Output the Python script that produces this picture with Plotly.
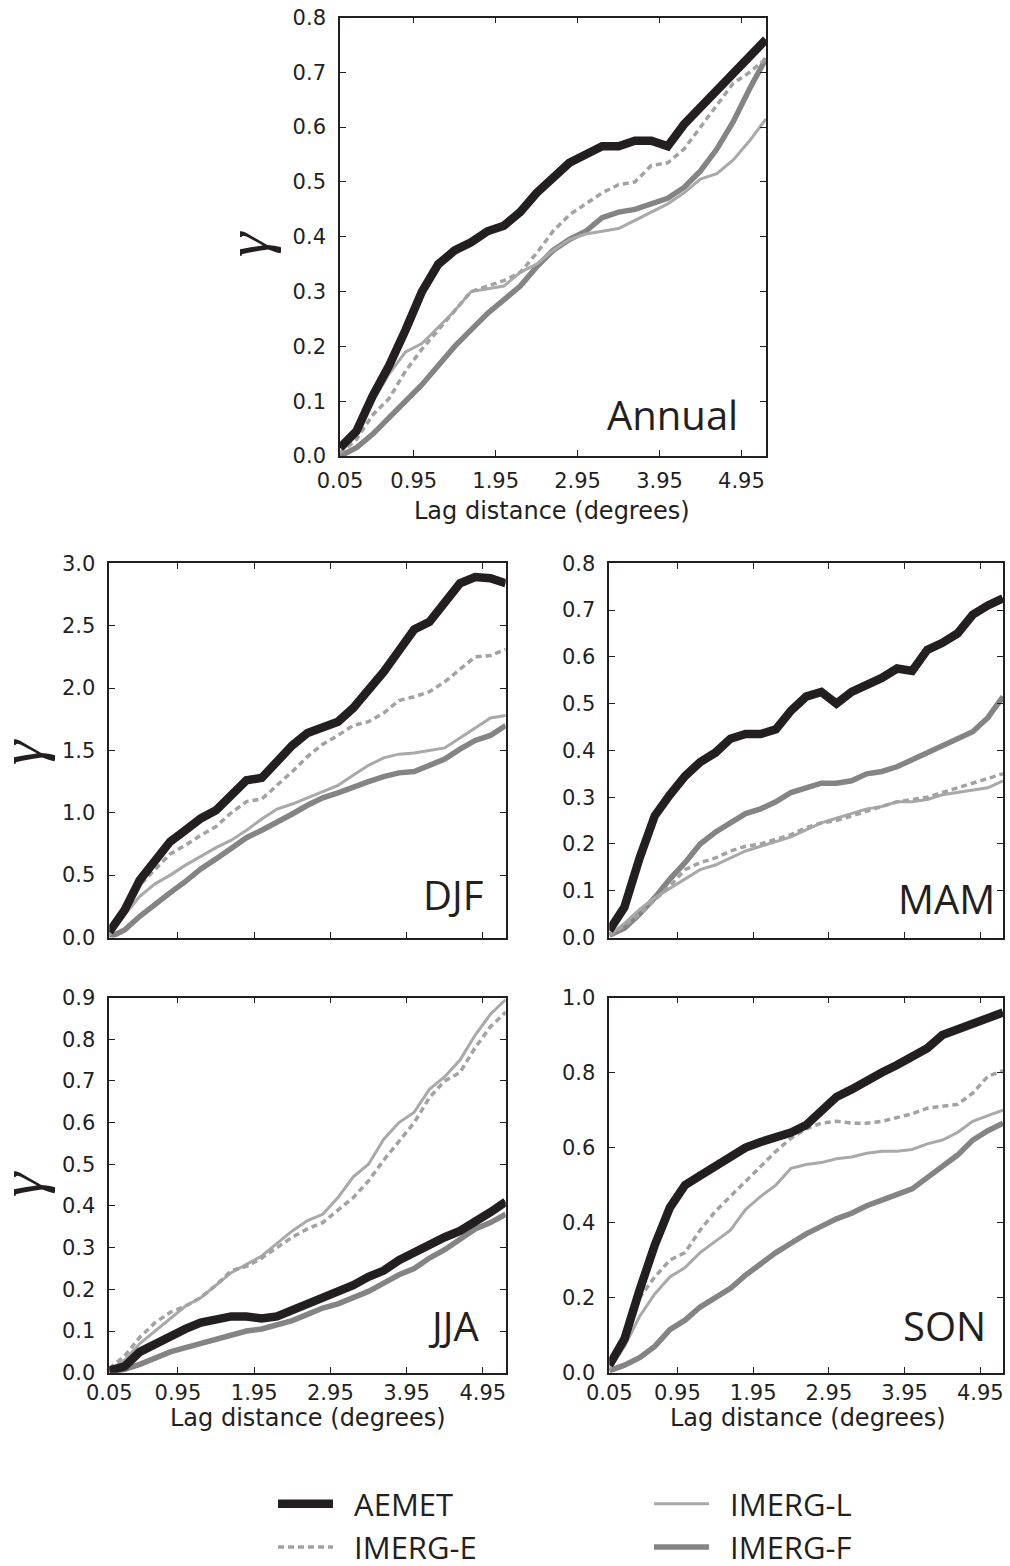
import plotly.graph_objects as go

# ---------------- data ----------------
lag = [0.05, 0.25, 0.45, 0.65, 0.85, 1.05, 1.25, 1.45, 1.65, 1.85, 2.05, 2.25, 2.45, 2.65,
       2.85, 3.05, 3.25, 3.45, 3.65, 3.85, 4.05, 4.25, 4.45, 4.65, 4.85, 5.05, 5.25]

tick_vals = [0.05, 0.95, 1.95, 2.95, 3.95, 4.95]
tick_text = ["0.05", "0.95", "1.95", "2.95", "3.95", "4.95"]

series_names = ["AEMET", "IMERG-E", "IMERG-L", "IMERG-F"]

# Annual
aemet_ann = [0.015, 0.045, 0.11, 0.165, 0.23, 0.30, 0.35, 0.375, 0.39, 0.41, 0.42, 0.445, 0.48, 0.505,
             0.535, 0.55, 0.565, 0.565, 0.575, 0.575, 0.565, 0.605, 0.635, 0.67, 0.70, 0.73, 0.76]
imerge_ann = [0.005, 0.03, 0.075, 0.105, 0.155, 0.195, 0.23, 0.265, 0.30, 0.31, 0.32, 0.335, 0.37, 0.41,
              0.44, 0.46, 0.48, 0.495, 0.50, 0.53, 0.535, 0.56, 0.60, 0.64, 0.68, 0.70, 0.725]
imergl_ann = [0.005, 0.04, 0.10, 0.15, 0.19, 0.205, 0.235, 0.265, 0.30, 0.305, 0.31, 0.335, 0.35, 0.375,
              0.395, 0.405, 0.41, 0.415, 0.43, 0.445, 0.46, 0.48, 0.505, 0.515, 0.54, 0.575, 0.615]
imergf_ann = [0.0, 0.015, 0.04, 0.07, 0.10, 0.13, 0.165, 0.20, 0.23, 0.26, 0.285, 0.31, 0.345, 0.375,
              0.395, 0.41, 0.435, 0.445, 0.45, 0.46, 0.47, 0.49, 0.52, 0.56, 0.61, 0.67, 0.725]

# DJF
aemet_djf = [0.045, 0.22, 0.46, 0.62, 0.77, 0.86, 0.955, 1.02, 1.13, 1.26, 1.28, 1.41, 1.54, 1.64,
             1.69, 1.73, 1.84, 1.98, 2.13, 2.30, 2.47, 2.53, 2.69, 2.84, 2.89, 2.88, 2.84]
imerge_djf = [0.03, 0.20, 0.42, 0.55, 0.67, 0.74, 0.82, 0.89, 1.00, 1.09, 1.11, 1.22, 1.33, 1.45,
              1.55, 1.62, 1.70, 1.73, 1.80, 1.90, 1.93, 1.97, 2.05, 2.15, 2.25, 2.26, 2.31]
imergl_djf = [0.02, 0.18, 0.33, 0.43, 0.50, 0.58, 0.65, 0.72, 0.78, 0.86, 0.95, 1.03, 1.07, 1.12,
              1.17, 1.22, 1.30, 1.38, 1.44, 1.47, 1.48, 1.50, 1.52, 1.60, 1.68, 1.76, 1.78]
imergf_djf = [0.0, 0.06, 0.17, 0.27, 0.36, 0.45, 0.55, 0.63, 0.72, 0.80, 0.86, 0.92, 0.99, 1.06,
              1.12, 1.16, 1.21, 1.25, 1.29, 1.32, 1.33, 1.38, 1.43, 1.51, 1.58, 1.62, 1.70]

# MAM
aemet_mam = [0.015, 0.065, 0.17, 0.26, 0.305, 0.345, 0.375, 0.395, 0.425, 0.435, 0.435, 0.445, 0.485, 0.515,
             0.525, 0.50, 0.525, 0.54, 0.555, 0.575, 0.57, 0.615, 0.63, 0.65, 0.69, 0.71, 0.725]
imerge_mam = [0.005, 0.025, 0.05, 0.08, 0.11, 0.145, 0.16, 0.17, 0.185, 0.195, 0.20, 0.21, 0.22, 0.235,
              0.245, 0.25, 0.26, 0.27, 0.28, 0.29, 0.295, 0.30, 0.31, 0.32, 0.33, 0.34, 0.35]
imergl_mam = [0.005, 0.03, 0.06, 0.085, 0.105, 0.125, 0.145, 0.155, 0.17, 0.185, 0.195, 0.205, 0.215, 0.23,
              0.245, 0.255, 0.265, 0.275, 0.28, 0.29, 0.29, 0.295, 0.305, 0.31, 0.315, 0.32, 0.335]
imergf_mam = [0.005, 0.02, 0.05, 0.085, 0.125, 0.16, 0.20, 0.225, 0.245, 0.265, 0.275, 0.29, 0.31, 0.32,
              0.33, 0.33, 0.335, 0.35, 0.355, 0.365, 0.38, 0.395, 0.41, 0.425, 0.44, 0.47, 0.515]

# JJA
aemet_jja = [0.005, 0.015, 0.05, 0.07, 0.085, 0.105, 0.12, 0.13, 0.135, 0.135, 0.13, 0.135, 0.15, 0.165,
             0.18, 0.19, 0.21, 0.23, 0.245, 0.27, 0.29, 0.31, 0.325, 0.34, 0.36, 0.385, 0.41]
imerge_jja = [0.01, 0.04, 0.085, 0.12, 0.145, 0.16, 0.18, 0.21, 0.245, 0.255, 0.275, 0.30, 0.325, 0.345,
              0.36, 0.39, 0.42, 0.46, 0.51, 0.555, 0.60, 0.66, 0.70, 0.72, 0.78, 0.83, 0.865]
imergl_jja = [0.005, 0.03, 0.07, 0.10, 0.13, 0.16, 0.18, 0.21, 0.24, 0.26, 0.28, 0.31, 0.34, 0.365,
              0.38, 0.42, 0.47, 0.50, 0.56, 0.60, 0.625, 0.68, 0.71, 0.75, 0.81, 0.86, 0.895]
imergf_jja = [0.0, 0.008, 0.02, 0.035, 0.05, 0.06, 0.07, 0.08, 0.09, 0.10, 0.105, 0.115, 0.125, 0.14,
              0.155, 0.165, 0.18, 0.195, 0.215, 0.235, 0.25, 0.275, 0.295, 0.32, 0.345, 0.36, 0.38]

# SON
aemet_son = [0.02, 0.09, 0.22, 0.34, 0.44, 0.50, 0.525, 0.55, 0.575, 0.60, 0.615, 0.625, 0.64, 0.66,
             0.70, 0.735, 0.755, 0.78, 0.80, 0.82, 0.84, 0.865, 0.90, 0.915, 0.925, 0.945, 0.96]
imerge_son = [0.03, 0.10, 0.20, 0.255, 0.30, 0.32, 0.38, 0.43, 0.47, 0.51, 0.55, 0.59, 0.625, 0.65,
              0.665, 0.67, 0.665, 0.665, 0.67, 0.68, 0.69, 0.705, 0.71, 0.715, 0.745, 0.79, 0.805]
imergl_son = [0.01, 0.07, 0.15, 0.21, 0.255, 0.28, 0.32, 0.35, 0.38, 0.435, 0.47, 0.50, 0.545, 0.555,
              0.56, 0.57, 0.575, 0.585, 0.59, 0.59, 0.595, 0.61, 0.62, 0.64, 0.67, 0.685, 0.70]
imergf_son = [0.005, 0.02, 0.04, 0.07, 0.115, 0.14, 0.175, 0.20, 0.225, 0.26, 0.29, 0.32, 0.345, 0.37,
              0.39, 0.41, 0.425, 0.445, 0.46, 0.475, 0.49, 0.52, 0.55, 0.58, 0.62, 0.645, 0.665]

panels = [
    ("Annual", [aemet_ann, imerge_ann, imergl_ann, imergf_ann], 0.8, 0.1, True),
    ("DJF", [aemet_djf, imerge_djf, imergl_djf, imergf_djf], 3.0, 0.5, False),
    ("MAM", [aemet_mam, imerge_mam, imergl_mam, imergf_mam], 0.8, 0.1, False),
    ("JJA", [aemet_jja, imerge_jja, imergl_jja, imergf_jja], 0.9, 0.1, True),
    ("SON", [aemet_son, imerge_son, imergl_son, imergf_son], 1.0, 0.2, True),
]

# ---------------- style ----------------
W, H = 1010, 1566
INK = "#231f20"
styles = {
    "AEMET": dict(color=INK, width=8.5, dash="solid"),
    "IMERG-E": dict(color="#a2a2a2", width=3.5, dash="6px,4px"),
    "IMERG-L": dict(color="#a9a9a9", width=3, dash="solid"),
    "IMERG-F": dict(color="#848484", width=5.5, dash="solid"),
}
legend_of = {"AEMET": "legend", "IMERG-E": "legend", "IMERG-L": "legend2", "IMERG-F": "legend2"}
rank_of = {"AEMET": 1, "IMERG-E": 2, "IMERG-L": 1, "IMERG-F": 2}
legend_pad = {"legend": "\u00a0\u00a0", "legend2": "\u00a0\u00a0"}
draw_order = ["IMERG-F", "IMERG-L", "IMERG-E", "AEMET"]

# panel boxes in pixels: left, right, top, bottom
boxes = [
    (340, 766, 17.5, 456),
    (109.3, 505.7, 563.3, 937.5),
    (609.3, 1003, 563.3, 937.5),
    (109.3, 505.7, 997.5, 1372.7),
    (609.3, 1003, 997.5, 1372.7),
]
x_standoff = [5, 0, 0, 0, 0]

fig = go.Figure()
layout = dict(
    template="none",
    width=W, height=H, margin=dict(l=0, r=0, t=0, b=0, pad=0, autoexpand=False),
    paper_bgcolor="white", plot_bgcolor="white",
    annotations=[],
)

for i, (label, data, ymax, ystep, showx) in enumerate(panels):
    n = "" if i == 0 else str(i + 1)
    xa, ya = "xaxis" + n, "yaxis" + n
    l, r, t, b = boxes[i]
    axis_common = dict(
        showline=True, linecolor=INK, linewidth=1.6, mirror="ticks",
        ticks="inside", ticklen=6, tickwidth=1.2, tickcolor=INK,
        showgrid=False, zeroline=False, automargin=False,
        tickfont=dict(family="DejaVu Sans", size=21, color=INK),
    )
    layout[xa] = dict(axis_common, domain=[l / W, r / W], range=[0.05, 5.25],
                      anchor="y" + n, tickvals=tick_vals, ticklabelstandoff=x_standoff[i],
                      ticktext=tick_text if showx else [""] * len(tick_vals))
    nt = int(round(ymax / ystep))
    yv = [round(k * ystep, 2) for k in range(nt + 1)]
    layout[ya] = dict(axis_common, domain=[1 - b / H, 1 - t / H], range=[0, ymax],
                      anchor="x" + n, tickvals=yv, ticklabelstandoff=8,
                      ticktext=["%.1f" % v for v in yv])
    for name in draw_order:
        s = styles[name]
        lg = legend_of[name]
        fig.add_trace(go.Scatter(
            x=lag, y=data[series_names.index(name)], mode="lines", name=legend_pad[lg] + name,
            line=dict(color=s["color"], width=s["width"], dash=s["dash"]),
            xaxis="x" + n, yaxis="y" + n, showlegend=(i == 0),
            legend=lg, legendrank=rank_of[name], hoverinfo="skip",
        ))

# panel labels
label_pos = [(0.94, 0.094), (0.947, 0.114), (0.985, 0.105), (0.937, 0.127), (0.962, 0.127)]
for i, (label, *_rest) in enumerate(panels):
    n = "" if i == 0 else str(i + 1)
    lx, ly = label_pos[i]
    layout["annotations"].append(dict(
        text=label, xref="x%s domain" % n, yref="y%s domain" % n, x=lx, y=ly,
        xanchor="right", yanchor="middle", showarrow=False,
        font=dict(family="Open Sans", size=40, color=INK)))

# y titles (gamma)
for (gx, gy) in [(247, 244), (21, 752), (21, 1184)]:
    layout["annotations"].append(dict(
        text="<i>γ</i>", xref="paper", yref="paper", x=gx / W, y=1 - gy / H,
        xanchor="center", yanchor="middle", showarrow=False, textangle=-90,
        font=dict(family="Liberation Serif", size=62, color=INK)))

# x titles
for (tx, ty) in [(552, 511), (308, 1418), (808, 1418)]:
    layout["annotations"].append(dict(
        text="Lag distance (degrees)", xref="paper", yref="paper", x=tx / W, y=1 - ty / H,
        xanchor="center", yanchor="middle", showarrow=False,
        font=dict(family="DejaVu Sans", size=24, color=INK)))

leg_common = dict(orientation="v", xanchor="left", yanchor="top", itemwidth=55,
                  bgcolor="rgba(0,0,0,0)", borderwidth=0, tracegroupgap=0,
                  font=dict(family="Liberation Sans Narrow, Open Sans", size=31, color=INK))
layout["legend"] = dict(leg_common, x=273 / W, y=1 - 1477 / H)
layout["legend2"] = dict(leg_common, x=649 / W, y=1 - 1477 / H)

fig.update_layout(**layout)
fig.write_html("out.html", post_script="document.body.style.margin='0px';")
